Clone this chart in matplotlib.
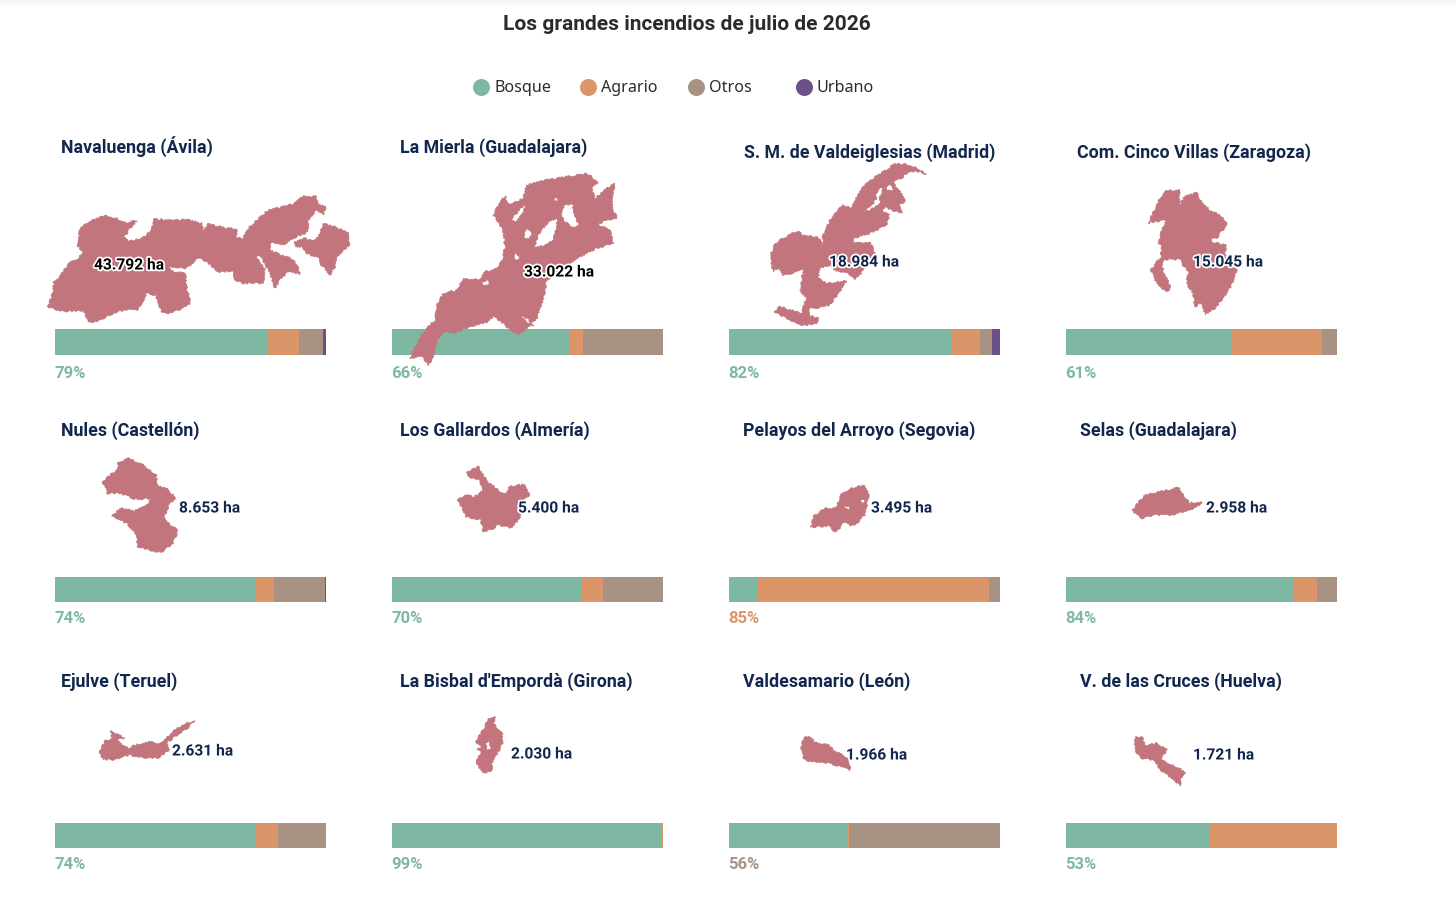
import matplotlib
matplotlib.use("Agg")
import matplotlib.pyplot as plt
import matplotlib.patheffects as pe
import numpy as np
from matplotlib.patches import PathPatch
from matplotlib.path import Path

plt.rcParams["font.family"] = ["Roboto", "DejaVu Sans"]

# data
title = "Los grandes incendios de julio de 2026"
land_uses = ["Bosque", "Agrario", "Otros", "Urbano"]
names = [
    "Navaluenga (Ávila)", "La Mierla (Guadalajara)", "S. M. de Valdeiglesias (Madrid)", "Com. Cinco Villas (Zaragoza)",
    "Nules (Castellón)", "Los Gallardos (Almería)", "Pelayos del Arroyo (Segovia)", "Selas (Guadalajara)",
    "Ejulve (Teruel)", "La Bisbal d'Empordà (Girona)", "Valdesamario (León)", "V. de las Cruces (Huelva)",
]
hectares = ["43.792", "33.022", "18.984", "15.045", "8.653", "5.400", "3.495", "2.958", "2.631", "2.030", "1.966", "1.721"]
bosque = [78.6, 65.7, 82.2, 61.1, 74.3, 70.0, 10.8, 84.3, 74.3, 99.4, 43.4, 52.6]
agrario = [11.4, 4.7, 10.5, 33.2, 6.5, 7.8, 85.2, 8.4, 7.9, 0.6, 0.8, 47.4]
otros = [9.0, 29.6, 4.4, 5.7, 18.9, 22.2, 4.0, 7.3, 17.8, 0.0, 55.8, 0.0]
urbano = [1.0, 0.0, 2.9, 0.0, 0.3, 0.0, 0.0, 0.0, 0.0, 0.0, 0.0, 0.0]

navaluenga = ([
    [(52,530),(65,500),(72,455),(90,440),(115,400),(145,385),(158,365),(140,345),(152,290),(195,265),(230,257),(260,265),(285,278),(322,272),(300,295),(283,322),(295,335),(335,325),(365,300),(372,267),(420,270),(470,268),(515,280),(520,305),(535,282),(590,295),(620,295),(620,322),(642,325),(645,305),(690,262),(715,240),(790,222),(820,198),(860,200),(865,225),(888,228),(880,255),(860,240),(835,270),(835,305),(790,325),(760,345),(725,335),(722,360),(745,372),(785,385),(800,405),(812,433),(775,425),(752,445),(735,475),(722,440),(715,420),(700,395),(695,380),(680,380),(705,420),(700,460),(665,458),(640,462),(615,450),(610,425),(565,425),(530,395),(505,385),(470,415),(420,410),(422,422),(465,430),(470,470),(482,520),(460,535),(420,550),(395,545),(375,495),(350,490),(325,540),(280,540),(240,555),(200,575),(175,575),(162,542),(100,545)],
    [(795,335),(825,325),(845,332),(865,320),(880,280),(915,290),(955,310),(958,345),(925,375),(915,410),(900,435),(870,400),(870,385),(830,370),(815,350),(795,350)],
], [])
la_mierla = ([
    [(90,685),(120,620),(150,585),(165,570),(170,525),(190,490),(215,480),(225,488),(250,445),(300,450),(310,425),(345,418),(365,395),(375,350),(370,300),(340,255),(355,225),(375,197),(385,225),(430,205),(440,165),(500,150),(560,140),(620,130),(655,155),(635,175),(645,205),(680,175),(705,160),(695,210),(700,240),(712,265),(680,270),(652,283),(690,298),(700,340),(650,355),(600,380),(575,395),(540,430),(500,450),(490,510),(470,565),(440,595),(415,615),(395,605),(370,580),(340,560),(325,575),(270,590),(220,610),(190,605),(175,625),(155,690),(145,705),(125,680)],
], [
    [(462,352),(478,310),(505,275),(530,265),(530,290),(520,330),(495,345)],
    [(545,255),(555,222),(578,225),(583,258),(597,285),(575,292),(550,270)],
    [(390,272),(415,245),(435,220),(430,250),(410,272)],
    [(428,325),(440,298),(455,305),(450,325)],
    [(400,388),(410,365),(418,388)],
    [(305,455),(328,452),(330,465),(310,465)],
    [(515,210),(535,200),(530,215)],
    [(425,560),(445,568),(460,590),(440,575)],
])
valdeiglesias = ([
    [(163,545),(178,530),(215,540),(245,550),(258,505),(240,480),(250,420),(215,430),(190,438),(175,415),(160,425),(150,378),(165,340),(200,318),(232,303),(255,318),(295,322),(310,345),(308,320),(330,270),(365,225),(395,235),(405,210),(430,170),(460,145),(490,125),(525,100),(570,105),(600,120),(618,133),(595,125),(565,125),(545,145),(522,150),(525,170),(540,185),(558,210),(540,225),(545,250),(515,240),(495,232),(485,240),(508,255),(500,285),(450,310),(400,325),(400,340),(450,335),(465,370),(435,400),(425,430),(405,448),(375,425),(350,425),(330,405),(300,415),(295,445),(320,460),(380,452),(355,490),(330,525),(290,535),(270,530),(268,555),(295,565),(290,578),(265,585),(235,585),(200,565)],
], [
    [(430,247),(455,225),(470,205),(468,190),(485,170),(490,178),(480,200),(478,222),(450,240)],
    [(495,170),(510,165),(520,180),(505,180)],
])
cinco_villas = ([
    [(265,280),(285,235),(300,205),(320,182),(358,180),(360,225),(375,195),(410,188),(425,215),(450,240),(490,262),(503,285),(480,310),(470,325),(445,330),(465,338),(497,345),(495,375),(515,405),(530,420),(515,465),(490,505),(465,535),(435,553),(425,515),(405,530),(400,490),(378,460),(385,425),(365,400),(360,388),(320,388),(305,395),(312,430),(330,465),(328,483),(310,480),(285,450),(273,420),(290,395),(302,385),(305,350),(295,340),(305,300),(320,270),(285,275)],
], [])
nules = ([
    [(148,125),(185,85),(185,68),(210,55),(245,75),(275,105),(280,135),(305,150),(323,175),(305,195),(300,215),(295,230),(305,250),(328,270),(315,310),(295,330),(285,338),(255,328),(230,320),(230,285),(205,250),(170,228),(190,205),(225,212),(255,195),(265,175),(225,178),(190,160),(160,160)],
], [])
gallardos = ([
    [(1012,95),(1040,80),(1050,105),(1065,130),(1085,150),(1105,165),(1110,140),(1150,132),(1160,165),(1135,195),(1140,225),(1120,265),(1085,255),(1070,270),(1050,275),(1045,240),(1010,230),(990,180),(1010,165),(1030,170),(1050,150),(1040,120),(1015,110)],
], [])
pelayos = ([
    [(222,262),(230,228),(255,205),(285,205),(295,165),(320,145),(355,135),(365,160),(360,200),(355,225),(335,250),(320,260),(305,245),(285,278),(265,258)],
], [
    [(340,178),(355,180),(352,195)],
    [(305,200),(315,198),(315,215)],
])
selas = ([
    [(1010,210),(1040,165),(1080,155),(1125,142),(1135,165),(1150,188),(1182,185),(1165,205),(1140,215),(1105,225),(1065,225),(1035,235),(1020,225)],
], [])
ejulve = ([
    [(140,155),(155,122),(170,115),(168,92),(200,115),(180,120),(210,145),(225,135),(255,125),(285,130),(310,100),(340,72),(367,62),(345,90),(325,105),(300,130),(305,150),(280,175),(240,172),(210,165),(175,180),(150,178)],
], [])
bisbal = ([
    [(1032,125),(1050,90),(1060,60),(1078,48),(1075,70),(1095,100),(1098,125),(1085,160),(1072,190),(1070,215),(1050,220),(1033,190),(1045,155),(1035,150),(1045,140)],
], [
    [(1058,130),(1065,118),(1068,145),(1058,150)],
])
valdesamario = ([
    [(197,145),(205,115),(218,107),(235,128),(265,135),(285,155),(315,175),(320,212),(295,200),(265,190),(220,185),(205,175)],
], [])
cruces = ([
    [(1018,110),(1035,112),(1040,135),(1070,130),(1095,150),(1080,180),(1100,190),(1125,205),(1142,218),(1128,240),(1128,258),(1110,240),(1080,210),(1060,180),(1030,175),(1015,145)],
], [])
outlines = [navaluenga, la_mierla, valdeiglesias, cinco_villas, nules, gallardos, pelayos, selas, ejulve, bisbal, valdesamario, cruces]

# layout, in pixels of the 1456x900 picture
crop_origin = [(30,130),(380,130),(720,130),(1060,130),(40,440),(40,440),(720,440),(720,440),(40,700),(40,700),(720,700),(720,700)]
crop_scale_x = [3, 3, 3, 3, 2.37, 2.37, 2.45, 2.45, 2.37, 2.37, 2.45, 2.45]
crop_scale_y = 3
bar_left = [55, 392, 729, 1066]
bar_top = [329, 577, 823]
bar_w = 271
bar_h = [26, 25, 25]
pct_y = [373.5, 618.5, 864.5]
name_xy = [(61,147),(400.5,147.5),(744,152.5),(1077,152.5),(61,430.5),(400.5,430.5),(743,430.5),(1080,430.5),(61,681.5),(400.5,681.5),(743,681.5),(1080,681.5)]
label_xy = [(94,265),(524,272),(829,262),(1193,262),(179,508),(518,508),(871,508),(1206,508),(172,751),(511,754),(846,755),(1193,755)]
legend_x = [481, 588, 696, 804]

colors = ["#7FB8A2", "#DA9669", "#A79283", "#6A5288"]
fire_color = "#C2757C"
navy = "#12274D"
W, H = 1456, 900


def ring_path(ring, clockwise):
    pts = np.array(ring, dtype=float)
    x, y = pts[:, 0], pts[:, 1]
    area = 0.5 * np.sum(x * np.roll(y, -1) - np.roll(x, -1) * y)
    if (area > 0) != clockwise:
        pts = pts[::-1]
    return np.vstack([pts, pts[0]])


def outline_path(outline, origin, scale_x):
    verts, codes = [], []
    rings, holes = outline
    for group, turn in ((rings, True), (holes, False)):
        for ring in group:
            pts = ring_path(ring, turn) / np.array([scale_x, crop_scale_y]) + np.array(origin)
            verts.extend(pts.tolist())
            codes.extend([Path.MOVETO] + [Path.LINETO] * (len(pts) - 2) + [Path.CLOSEPOLY])
    return Path(verts, codes)


fig = plt.figure(figsize=(W / 100, H / 100), dpi=100, facecolor="white")

# stacked bars, one small axes per fire
shares = np.array([bosque, agrario, otros, urbano])
for i in range(12):
    row, col = i // 4, i % 4
    ax = fig.add_axes([bar_left[col] / W, 1 - (bar_top[row] + bar_h[row]) / H, bar_w / W, bar_h[row] / H])
    left = 0
    for j in range(4):
        ax.barh(0, shares[j, i], left=left, height=1, color=colors[j], linewidth=0)
        left += shares[j, i]
    ax.set_xlim(0, 100)
    ax.set_ylim(-0.5, 0.5)
    ax.axis("off")

# overlay in picture pixels for outlines and text
top = fig.add_axes([0, 0, 1, 1], zorder=5)
top.axis("off")
top.patch.set_visible(False)

top.imshow(np.linspace(0.955, 1, 8).reshape(-1, 1), cmap="gray", vmin=0, vmax=1,
           extent=(0, W, 8, 0), aspect="auto", zorder=0)
top.set_xlim(0, W)
top.set_ylim(H, 0)

top.text(686.5, 24, title, ha="center", va="center", fontsize=15, fontweight="bold", color="#2B2B2B")

for x, name, c in zip(legend_x, land_uses, colors):
    top.scatter([x], [87], s=150, color=c, linewidths=0)
    top.text(x + 13, 88.5, name, ha="left", va="center", fontsize=11.6, color="#2B2B2B",
             family=["Noto Sans", "DejaVu Sans"])

halo = [pe.withStroke(linewidth=2.5, foreground="white")]
for i in range(12):
    row, col = i // 4, i % 4
    fire = PathPatch(outline_path(outlines[i], crop_origin[i], crop_scale_x[i]),
                     facecolor=fire_color, edgecolor=fire_color, linewidth=0.5, zorder=2)
    # burnt edges are rough
    fire.set_sketch_params(scale=0.8, length=5, randomness=14)
    top.add_patch(fire)
    top.text(name_xy[i][0], name_xy[i][1], names[i], ha="left", va="center", fontsize=12.75,
             fontweight="bold", color=navy, zorder=3)
    lx, ly = label_xy[i]
    label_color = "black" if i < 2 else navy
    top.text(lx, ly, hectares[i] + " ha", ha="left", va="center", fontsize=11.2, fontweight="bold",
             color=label_color, path_effects=halo, zorder=4)
    dominant = int(np.argmax(shares[:, i]))
    top.text(bar_left[col] - 0.5, pct_y[row], f"{shares[dominant, i]:.0f}%", ha="left", va="center", fontsize=12,
             fontweight="bold", color=colors[dominant], zorder=3)

fig.savefig("out.png", dpi=100)
